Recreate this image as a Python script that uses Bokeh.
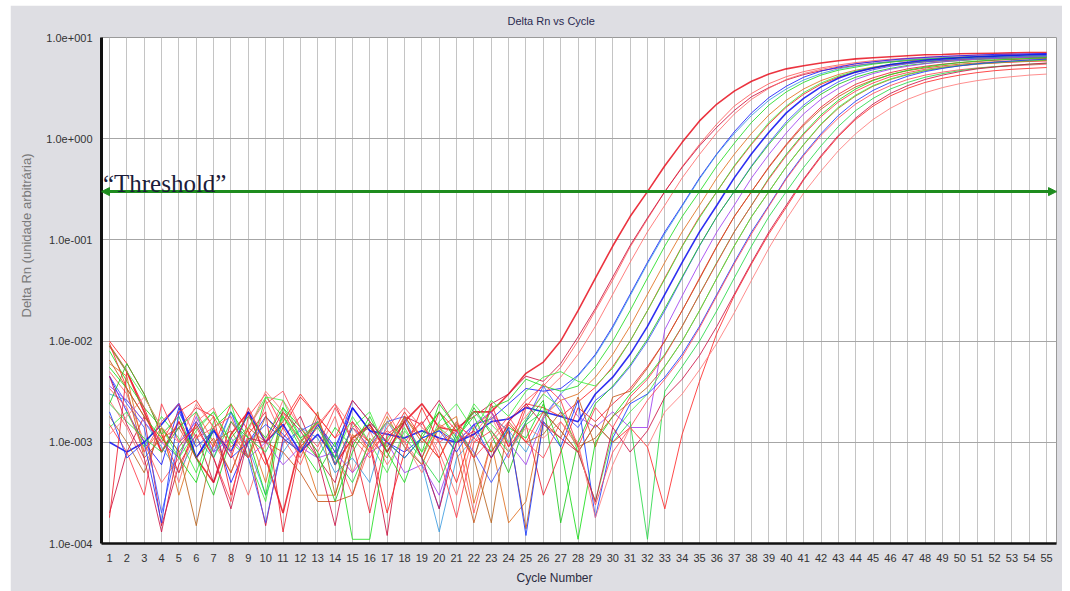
from bokeh.plotting import figure
from bokeh.models import FixedTicker, CustomJSTickFormatter, Range1d, Label, Arrow, NormalHead, Title
from bokeh.embed import file_html
from bokeh.resources import INLINE

# ---------------- data ----------------
cycles = list(range(1, 56))
x_ticks = list(range(1, 56))
y_ticks = [1e-4, 1e-3, 1e-2, 1e-1, 1e0, 1e1]
y_tick_labels = ["1.0e-004", "1.0e-003", "1.0e-002", "1.0e-001", "1.0e+000", "1.0e+001"]
threshold_value = 0.3

title_text = "Delta Rn vs Cycle"
x_label_text = "Cycle Number"
y_label_text = "Delta Rn (unidade arbitrária)"
threshold_text = "\u201cThreshold\u201d"

s01 = [9.0e-3, 5.0e-3, 2.0e-3, 8.0e-4, 1.6e-3, 7.0e-4, 4.0e-4, 1.2e-3, 2.0e-3, 7.0e-4, 2.0e-4, 1.0e-3, 1.6e-3, 6.0e-4, 1.1e-3, 1.5e-3, 8.0e-4, 1.6e-3, 2.4e-3, 1.4e-3, 1.3e-3, 2.0e-3, 2.0e-3,
       3.0e-3, 4.8e-3, 6.2e-3, 1.0e-2, 2.0e-2, 4.2e-2, 8.7e-2, 0.17, 0.30, 0.54, 0.92, 1.5, 2.2, 2.95, 3.7, 4.35, 4.9, 5.25, 5.6, 5.9, 6.15, 6.3, 6.45, 6.6, 6.75, 6.8, 6.9, 6.95, 7.0, 7.05, 7.1, 7.1]
s02 = [5.0e-3, 3.0e-3, 1.0e-3, 4.0e-4, 7.0e-4, 2.0e-3, 1.0e-3, 5.0e-4, 1.4e-3, 2.6e-3, 1.1e-3, 6.0e-4, 1.6e-3, 8.0e-4, 3.0e-4, 9.0e-4, 2.0e-3, 1.0e-3, 6.0e-4, 1.5e-3, 1.2e-3, 2.0e-4, 1.0e-3, 1.6e-3,
       2.6e-3, 3.6e-3, 5.5e-3, 1.0e-2, 2.0e-2, 4.0e-2, 8.5e-2, 0.16, 0.30, 0.53, 0.88, 1.4, 2.1, 2.8, 3.5, 4.1, 4.6, 5.0, 5.35, 5.65, 5.9, 6.1, 6.25, 6.4, 6.5, 6.6, 6.7, 6.75, 6.8, 6.85, 6.9]
s03 = [2.0e-4, 8.0e-4, 1.8e-3, 1.5e-4, 6.0e-4, 1.2e-3, 4.0e-4, 1.6e-3, 9.0e-4, 1.5e-4, 1.1e-3, 1.8e-3, 7.0e-4, 4.0e-4, 1.6e-3, 1.0e-3, 1.2e-4, 1.8e-3, 1.5e-3, 2.6e-3, 1.4e-3, 1.8e-3, 2.4e-3, 3.0e-3,
       4.5e-3, 4.0e-3, 6.0e-3, 1.1e-2, 2.1e-2, 4.3e-2, 8.8e-2, 0.165, 0.30, 0.52, 0.85, 1.3, 1.9, 2.6, 3.2, 3.8, 4.3, 4.7, 5.0, 5.3, 5.55, 5.75, 5.9, 6.05, 6.15, 6.25, 6.3, 6.35, 6.4, 6.45, 6.5]
s04 = [2.6e-3, 1.4e-3, 6.0e-4, 1.2e-3, 4.0e-4, 1.6e-3, 2.2e-3, 8.0e-4, 3.0e-4, 1.0e-3, 2.6e-3, 1.4e-3, 8.0e-4, 1.8e-3, 5.0e-4, 1.3e-3, 6.0e-4, 1.1e-3, 1.6e-3, 8.0e-4, 3.0e-4, 1.2e-3, 2.0e-3, 1.2e-3, 1.8e-3,
       3.0e-3, 4.4e-3, 7.4e-3, 1.4e-2, 2.9e-2, 6.0e-2, 0.12, 0.22, 0.41, 0.70, 1.15, 1.75, 2.45, 3.15, 3.85, 4.4, 4.85, 5.2, 5.5, 5.75, 5.95, 6.1, 6.25, 6.35, 6.45, 6.55, 6.6, 6.65, 6.7, 6.75]
s05 = [4.5e-3, 2.0e-3, 1.0e-3, 6.0e-4, 2.2e-3, 7.0e-4, 1.4e-3, 4.0e-4, 1.0e-3, 1.8e-3, 1.2e-3, 8.0e-4, 1.5e-3, 9.0e-4, 2.2e-3, 1.3e-3, 1.0e-3, 8.0e-4, 1.1e-3, 1.3e-3, 1.0e-3, 1.5e-3, 1.7e-3, 2.4e-3, 3.4e-3, 3.2e-3,
       3.4e-3, 4.6e-3, 7.4e-3, 1.4e-2, 2.9e-2, 6.0e-2, 0.12, 0.22, 0.41, 0.71, 1.17, 1.8, 2.55, 3.3, 4.05, 4.65, 5.1, 5.5, 5.75, 6.0, 6.2, 6.35, 6.5, 6.6, 6.7, 6.8, 6.85, 6.9, 6.95]
s06 = [3.0e-3, 2.6e-3, 1.6e-3, 9.0e-4, 5.0e-4, 1.1e-3, 7.0e-4, 2.0e-3, 9.0e-4, 3.0e-4, 8.0e-4, 1.4e-3, 1.1e-3, 5.0e-4, 7.0e-4, 4.0e-4, 1.6e-3, 9.0e-4, 6.0e-4, 1.3e-4, 7.0e-4, 1.1e-3, 1.8e-3, 1.3e-3, 8.0e-4, 1.8e-3,
       3.0e-3, 4.5e-3, 7.2e-3, 1.35e-2, 2.8e-2, 5.8e-2, 0.115, 0.215, 0.40, 0.70, 1.12, 1.7, 2.4, 3.1, 3.8, 4.4, 4.9, 5.25, 5.55, 5.8, 6.0, 6.15, 6.3, 6.4, 6.5, 6.6, 6.65, 6.7, 6.75]
s07 = [8.0e-3, 4.0e-3, 2.2e-3, 1.4e-3, 8.0e-4, 1.4e-3, 2.0e-3, 1.0e-3, 7.0e-4, 2.8e-3, 1.8e-3, 9.0e-4, 5.0e-4, 1.0e-3, 1.1e-4, 1.1e-4, 1.1e-3, 1.6e-3, 8.0e-4, 2.4e-3, 1.4e-3, 7.0e-4, 2.2e-3, 2.6e-3, 4.2e-3, 3.6e-3,
       3.2e-3, 3.6e-3, 5.6e-3, 1.0e-2, 2.0e-2, 4.2e-2, 8.7e-2, 0.17, 0.30, 0.54, 0.90, 1.45, 2.15, 2.9, 3.6, 4.25, 4.75, 5.1, 5.45, 5.7, 5.95, 6.1, 6.25, 6.35, 6.45, 6.5, 6.55, 6.6, 6.6]
s08 = [6.0e-3, 4.5e-3, 8.0e-4, 1.4e-3, 3.0e-4, 1.1e-3, 1.8e-3, 9.0e-4, 1.3e-3, 4.0e-4, 2.0e-3, 1.0e-3, 3.0e-4, 3.0e-4, 1.2e-3, 8.0e-4, 1.8e-3, 9.0e-4, 6.0e-4, 1.4e-3, 1.8e-3, 2.5e-4, 1.0e-3, 1.6e-4, 2.6e-4, 1.8e-3, 2.6e-3,
       3.0e-3, 4.4e-3, 7.4e-3, 1.4e-2, 2.9e-2, 6.0e-2, 0.12, 0.22, 0.41, 0.70, 1.13, 1.72, 2.4, 3.1, 3.75, 4.3, 4.75, 5.1, 5.4, 5.6, 5.8, 5.95, 6.05, 6.15, 6.25, 6.3, 6.35, 6.4]
s09 = [1.0e-2, 6.0e-3, 3.0e-3, 1.2e-3, 5.0e-4, 1.6e-3, 9.0e-4, 2.4e-3, 1.3e-3, 6.0e-4, 1.4e-3, 2.8e-3, 1.8e-3, 6.0e-4, 1.4e-3, 1.0e-3, 2.0e-4, 8.0e-4, 2.2e-3, 1.0e-3, 4.0e-4, 1.4e-3, 2.0e-3, 9.0e-4, 2.4e-3, 2.2e-3, 1.8e-3,
       2.5e-3, 3.5e-3, 5.6e-3, 1.0e-2, 2.0e-2, 4.2e-2, 8.7e-2, 0.17, 0.30, 0.53, 0.88, 1.4, 2.05, 2.75, 3.45, 4.05, 4.55, 4.95, 5.3, 5.55, 5.75, 5.9, 6.05, 6.15, 6.2, 6.3, 6.35, 6.4]
s10 = [1.4e-3, 2.0e-3, 9.0e-4, 1.8e-3, 1.1e-3, 5.0e-4, 1.6e-3, 2.4e-3, 7.0e-4, 2.6e-4, 1.8e-3, 1.0e-3, 1.6e-3, 6.0e-4, 1.4e-3, 2.0e-3, 8.0e-4, 1.4e-3, 7.0e-4, 1.6e-3, 2.4e-3, 1.3e-3, 2.6e-3, 1.8e-3, 3.2e-3, 4.4e-3, 5.0e-3,
       4.0e-3, 3.6e-3, 5.4e-3, 1.0e-2, 2.0e-2, 4.1e-2, 8.6e-2, 0.165, 0.30, 0.54, 0.90, 1.45, 2.1, 2.85, 3.55, 4.15, 4.65, 5.05, 5.4, 5.65, 5.85, 6.0, 6.15, 6.25, 6.3, 6.4, 6.45, 6.5]
s11 = [1.0e-3, 8.0e-4, 1.0e-3, 1.5e-3, 2.4e-3, 7.0e-4, 1.3e-3, 8.0e-4, 2.0e-3, 1.0e-3, 1.5e-3, 8.0e-4, 1.2e-3, 7.0e-4, 2.2e-3, 1.3e-3, 1.2e-3, 1.1e-3, 1.3e-3, 1.1e-3, 1.0e-3, 1.2e-3, 1.6e-3, 1.7e-3, 2.2e-3, 2.0e-3, 1.8e-3, 1.6e-3,
       3.0e-3, 4.4e-3, 7.4e-3, 1.4e-2, 2.9e-2, 6.0e-2, 0.12, 0.22, 0.41, 0.71, 1.16, 1.8, 2.5, 3.25, 3.95, 4.55, 5.0, 5.4, 5.7, 5.95, 6.15, 6.3, 6.45, 6.55, 6.65, 6.75, 6.8]
s12 = [4.5e-3, 2.4e-3, 1.4e-3, 2.0e-4, 1.0e-3, 1.6e-3, 8.0e-4, 2.0e-3, 7.0e-4, 1.6e-4, 1.0e-3, 1.3e-3, 1.6e-3, 6.0e-4, 1.4e-3, 9.0e-4, 1.6e-3, 1.8e-3, 7.0e-4, 2.2e-4, 1.3e-3, 8.0e-4, 4.0e-4, 8.0e-4, 1.6e-3, 3.6e-3, 2.0e-3, 1.4e-3,
       2.6e-3, 3.5e-3, 5.6e-3, 1.0e-2, 2.0e-2, 4.2e-2, 8.7e-2, 0.17, 0.30, 0.54, 0.91, 1.47, 2.15, 2.9, 3.65, 4.3, 4.8, 5.2, 5.5, 5.75, 5.95, 6.1, 6.25, 6.35, 6.45, 6.55, 6.6]
s13 = [2.4e-3, 6.0e-3, 3.0e-3, 1.2e-3, 1.8e-3, 7.0e-4, 3.0e-4, 1.1e-3, 1.8e-3, 1.1e-3, 2.2e-3, 1.4e-3, 8.0e-4, 2.6e-4, 8.0e-4, 1.6e-3, 1.0e-3, 7.0e-4, 1.1e-3, 2.0e-3, 1.0e-3, 2.2e-3, 1.2e-3, 5.0e-4, 1.6e-3, 2.6e-3, 1.6e-4, 1.0e-3,
       2.4e-3, 3.6e-3, 5.8e-3, 1.05e-2, 2.1e-2, 4.3e-2, 8.8e-2, 0.17, 0.30, 0.53, 0.88, 1.4, 2.05, 2.75, 3.45, 4.05, 4.55, 4.95, 5.3, 5.55, 5.75, 5.9, 6.05, 6.15, 6.25, 6.3, 6.35]
s14 = [3.6e-3, 2.6e-3, 1.6e-3, 1.0e-3, 7.0e-4, 1.8e-3, 8.0e-4, 1.1e-3, 7.0e-4, 1.0e-3, 6.0e-4, 9.0e-4, 7.0e-4, 8.0e-4, 5.0e-4, 8.0e-4, 1.0e-3, 5.0e-4, 6.0e-4, 3.0e-4, 1.0e-3, 1.5e-3, 2.0e-3, 1.0e-3, 6.0e-4, 1.7e-3, 3.0e-3, 1.8e-3, 1.4e-3,
       2.0e-3, 1.4e-3, 1.4e-3, 1.3e-2, 2.8e-2, 5.9e-2, 0.12, 0.22, 0.41, 0.70, 1.14, 1.76, 2.45, 3.15, 3.85, 4.4, 4.85, 5.2, 5.5, 5.75, 5.95, 6.1, 6.2, 6.3, 6.4, 6.45]
s15 = [1.8e-4, 5.0e-3, 2.2e-3, 8.0e-4, 1.4e-3, 2.2e-3, 1.8e-3, 3.0e-4, 1.2e-3, 2.0e-3, 1.3e-4, 9.0e-4, 1.4e-3, 2.4e-3, 1.0e-3, 2.0e-4, 1.2e-3, 1.6e-3, 7.0e-4, 2.0e-3, 1.3e-3, 7.0e-4, 2.4e-3, 9.0e-4, 1.5e-3, 3.0e-4, 8.0e-4, 2.2e-3, 1.6e-3,
       2.4e-3, 3.4e-3, 5.6e-3, 1.0e-2, 2.0e-2, 4.2e-2, 8.7e-2, 0.17, 0.30, 0.53, 0.88, 1.4, 2.05, 2.75, 3.45, 4.0, 4.5, 4.9, 5.2, 5.45, 5.65, 5.8, 5.95, 6.05, 6.15, 6.2]
s16 = [6.5e-3, 3.4e-3, 7.0e-4, 1.1e-3, 1.4e-3, 7.0e-4, 1.1e-3, 5.0e-4, 1.4e-3, 1.0e-3, 8.0e-4, 5.0e-4, 2.6e-4, 2.6e-4, 3.0e-4, 1.1e-3, 7.0e-4, 1.8e-3, 1.0e-3, 1.4e-3, 8.0e-4, 1.6e-4, 7.0e-4, 1.3e-3, 1.4e-4, 1.6e-3, 1.1e-3, 2.8e-3, 9.0e-4,
       2.8e-3, 3.2e-3, 5.4e-3, 1.0e-2, 2.0e-2, 4.1e-2, 8.6e-2, 0.17, 0.30, 0.52, 0.86, 1.35, 1.95, 2.6, 3.25, 3.8, 4.3, 4.7, 5.0, 5.25, 5.45, 5.6, 5.75, 5.85, 5.95, 6.0]
s17 = [5.5e-3, 3.4e-3, 1.8e-3, 1.1e-3, 7.0e-4, 4.0e-4, 1.4e-3, 2.0e-3, 1.1e-3, 3.0e-4, 2.2e-3, 1.1e-3, 7.0e-4, 1.4e-3, 9.0e-4, 1.8e-3, 8.0e-4, 4.0e-4, 1.2e-3, 2.0e-3, 1.1e-3, 1.8e-3, 8.0e-4, 1.4e-3, 1.1e-3, 2.4e-3, 9.0e-4, 1.1e-4, 1.0e-3, 1.8e-3,
       3.0e-3, 4.4e-3, 7.4e-3, 1.4e-2, 2.9e-2, 6.0e-2, 0.12, 0.22, 0.41, 0.70, 1.13, 1.72, 2.4, 3.1, 3.75, 4.3, 4.75, 5.1, 5.4, 5.65, 5.85, 6.0, 6.1, 6.2, 6.3]
s18 = [1.5e-3, 8.0e-4, 3.0e-4, 2.4e-3, 1.0e-3, 1.4e-3, 7.0e-4, 2.6e-4, 1.8e-3, 3.0e-3, 1.4e-3, 7.0e-4, 1.8e-3, 1.1e-3, 1.6e-3, 8.0e-4, 1.3e-3, 1.0e-3, 1.6e-3, 7.0e-4, 1.8e-4, 1.0e-3, 1.3e-3, 7.0e-4, 2.2e-3, 3.8e-3, 2.6e-3, 9.0e-4, 2.2e-3, 1.4e-3,
       2.8e-3, 4.2e-3, 7.2e-3, 1.4e-2, 2.9e-2, 5.9e-2, 0.12, 0.22, 0.40, 0.68, 1.1, 1.65, 2.3, 2.95, 3.55, 4.1, 4.5, 4.85, 5.1, 5.3, 5.5, 5.6, 5.7, 5.8, 5.85]
s19 = [1.8e-3, 1.0e-3, 5.0e-4, 1.4e-3, 8.0e-4, 1.5e-4, 1.0e-3, 1.3e-3, 7.0e-4, 1.8e-3, 1.1e-3, 8.0e-4, 2.0e-3, 3.0e-4, 1.1e-3, 1.4e-3, 9.0e-4, 1.8e-3, 1.1e-3, 7.0e-4, 1.6e-3, 7.0e-4, 1.6e-4, 1.6e-3, 1.0e-3, 1.2e-3, 2.0e-3, 9.0e-4, 1.1e-3, 1.8e-3,
       2.5e-3, 3.5e-3, 5.6e-3, 1.0e-2, 2.0e-2, 4.2e-2, 8.7e-2, 0.17, 0.30, 0.53, 0.87, 1.38, 2.0, 2.65, 3.3, 3.85, 4.3, 4.7, 5.0, 5.25, 5.45, 5.6, 5.75, 5.85, 5.95]
s20 = [9.0e-3, 5.0e-3, 2.8e-3, 1.4e-3, 7.0e-4, 1.3e-3, 2.0e-3, 1.0e-3, 1.4e-3, 2.8e-3, 2.6e-3, 1.1e-3, 1.6e-3, 7.0e-4, 1.8e-3, 1.0e-3, 5.0e-4, 1.3e-3, 8.0e-4, 1.4e-3, 1.0e-3, 2.4e-3, 1.5e-3, 1.0e-3, 1.7e-3, 3.0e-3, 2.2e-3, 8.0e-4, 2.6e-4, 1.2e-3,
       2.0e-3, 3.0e-3, 5.6e-3, 1.0e-2, 2.0e-2, 4.2e-2, 8.7e-2, 0.17, 0.30, 0.53, 0.88, 1.4, 2.05, 2.7, 3.35, 3.9, 4.35, 4.75, 5.05, 5.3, 5.5, 5.65, 5.8, 5.9, 6.0]
s21 = [2.0e-3, 7.0e-4, 1.0e-3, 1.6e-4, 2.0e-3, 9.0e-4, 1.3e-3, 7.0e-4, 1.0e-3, 1.5e-3, 1.1e-3, 8.0e-4, 1.5e-3, 8.0e-4, 2.6e-3, 1.6e-3, 1.0e-3, 7.0e-4, 1.1e-3, 1.3e-3, 8.0e-4, 1.5e-3, 7.0e-4, 1.4e-3, 1.2e-4, 1.6e-3, 9.0e-4, 2.6e-3, 1.8e-4, 1.1e-3, 2.4e-3,
       3.0e-3, 4.4e-3, 7.4e-3, 1.4e-2, 2.9e-2, 6.0e-2, 0.12, 0.22, 0.41, 0.70, 1.12, 1.7, 2.35, 3.0, 3.6, 4.15, 4.6, 4.95, 5.25, 5.5, 5.7, 5.85, 6.0, 6.1]
s22 = [3.4e-3, 2.2e-3, 8.0e-4, 1.6e-3, 2.4e-3, 1.1e-3, 1.4e-3, 1.8e-3, 7.0e-4, 2.4e-3, 3.2e-3, 1.4e-3, 9.0e-4, 2.2e-3, 1.1e-3, 7.0e-4, 1.4e-3, 2.2e-3, 1.4e-3, 1.0e-3, 1.3e-3, 7.0e-4, 1.1e-3, 1.8e-3, 1.0e-3, 7.0e-4, 1.6e-3, 9.0e-4, 2.4e-4, 8.0e-4, 1.4e-3,
       2.6e-3, 4.2e-3, 7.0e-3, 1.35e-2, 2.8e-2, 5.8e-2, 0.115, 0.215, 0.40, 0.68, 1.08, 1.6, 2.2, 2.8, 3.35, 3.85, 4.25, 4.55, 4.8, 5.0, 5.15, 5.25, 5.35, 5.45]
s23 = [2.4e-3, 1.6e-3, 1.1e-3, 8.0e-4, 1.4e-3, 2.0e-3, 7.0e-4, 1.6e-3, 1.1e-3, 8.0e-4, 1.8e-3, 1.1e-3, 1.4e-3, 7.0e-4, 4.0e-4, 1.0e-3, 1.6e-3, 1.1e-3, 7.0e-4, 4.0e-4, 1.1e-3, 2.0e-3, 1.3e-3, 8.0e-4, 1.5e-3, 2.0e-3, 1.3e-3, 8.0e-4, 1.5e-3, 1.0e-3, 1.6e-3,
       1.1e-4, 3.2e-3, 5.6e-3, 1.0e-2, 2.0e-2, 4.2e-2, 8.7e-2, 0.17, 0.30, 0.52, 0.85, 1.32, 1.9, 2.5, 3.1, 3.6, 4.05, 4.4, 4.7, 4.95, 5.15, 5.3, 5.45, 5.55]
s24 = [9.5e-3, 3.4e-3, 1.8e-3, 1.0e-3, 2.0e-3, 2.6e-3, 1.4e-3, 7.0e-4, 2.2e-3, 1.0e-3, 1.6e-3, 3.0e-3, 1.8e-3, 1.1e-3, 2.6e-3, 1.6e-3, 1.0e-3, 2.0e-3, 1.1e-3, 7.0e-4, 1.5e-3, 1.1e-3, 8.0e-4, 1.5e-3, 1.0e-3, 2.0e-3, 1.3e-3, 8.0e-4, 1.5e-3, 1.0e-3, 1.4e-3, 9.0e-4,
       2.2e-4, 1.2e-3, 4.0e-3, 1.2e-2, 2.8e-2, 5.8e-2, 0.115, 0.21, 0.39, 0.66, 1.05, 1.55, 2.1, 2.65, 3.15, 3.6, 3.95, 4.25, 4.5, 4.7, 4.85, 4.95, 5.05]
s25 = [4.5e-3, 1.5e-3, 7.0e-4, 1.3e-4, 9.0e-4, 1.5e-3, 7.0e-4, 2.2e-4, 1.1e-3, 1.0e-3, 2.0e-3, 1.3e-3, 7.0e-4, 1.5e-4, 1.0e-3, 1.5e-3, 8.0e-4, 1.6e-3, 7.0e-4, 2.2e-4, 1.0e-3, 1.3e-3, 7.0e-4, 1.6e-3, 2.4e-3, 1.5e-3, 1.1e-3, 8.0e-4, 2.6e-4, 1.4e-3, 8.0e-4, 1.3e-3,
       2.8e-3, 4.2e-3, 7.2e-3, 1.4e-2, 2.9e-2, 6.0e-2, 0.12, 0.22, 0.40, 0.68, 1.08, 1.6, 2.2, 2.8, 3.35, 3.85, 4.25, 4.6, 4.9, 5.1, 5.3, 5.45, 5.6]
s26 = [1.2e-3, 1.8e-3, 2.8e-3, 1.4e-3, 1.0e-3, 2.4e-3, 1.4e-3, 8.0e-4, 1.3e-3, 3.2e-3, 2.0e-3, 1.0e-3, 1.5e-3, 2.4e-3, 1.4e-3, 8.0e-4, 1.6e-3, 1.0e-3, 5.0e-4, 1.1e-3, 1.6e-3, 1.0e-3, 1.8e-3, 8.0e-4, 1.4e-3, 1.1e-3, 1.6e-3, 1.0e-3, 1.8e-4, 6.0e-4, 1.4e-3, 9.0e-4,
       2.0e-3, 3.0e-3, 5.2e-3, 9.5e-3, 1.9e-2, 4.0e-2, 8.3e-2, 0.16, 0.29, 0.48, 0.76, 1.12, 1.55, 2.0, 2.45, 2.85, 3.2, 3.5, 3.75, 3.95, 4.1, 4.25, 4.35]

series = [s01, s02, s03, s04, s05, s06, s07, s08, s09, s10, s11, s12, s13,
          s14, s15, s16, s17, s18, s19, s20, s21, s22, s23, s24, s25, s26]

# ---------------- styles ----------------
series_colors = ["#e8101e", "#ff5a5a", "#cc1040", "#ff6b6b", "#1a1aff", "#3b9be0", "#22dd22",
                 "#e0701e", "#ff2020", "#3cee3c", "#0a0aee", "#4050ff", "#20c820", "#a040f0",
                 "#ee2030", "#c8581a", "#18dd18", "#ff3a48", "#b8641e", "#48ee48", "#1838ff",
                 "#ff4a5a", "#28d848", "#ff2a2a", "#cc1448", "#ff7a7a"]
series_widths = [1.6, 1, 1, 1, 1, 1, 1, 1, 1, 1, 1.6, 1, 1, 1, 1, 1, 1, 1, 1, 1, 1, 1, 1, 1, 1, 1]

for i, s in enumerate(series):
    if len(s) != len(cycles):
        raise ValueError("series %d has %d values" % (i + 1, len(s)))

GREEN = "#1e8c1e"
SANS = "Liberation Sans"
X0, X1 = 0.54, 55.57

p = figure(width=1052, height=586, margin=(5, 0, 0, 10), y_axis_type="log",
           x_range=Range1d(X0, X1), y_range=Range1d(1e-4, 10),
           output_backend="svg", toolbar_location=None,
           min_border_left=89, min_border_right=6, min_border_top=32, min_border_bottom=48,
           background_fill_color="white", border_fill_color="#dedee3")
p.outline_line_color = "#9a9a9a"
p.outline_line_width = 1

# title (above)
p.title.text = title_text
p.title.align = "left"
p.title.offset = 406
p.title.vertical_align = "top"
p.title.standoff = 17
p.title.text_font = SANS
p.title.text_font_size = "11px"
p.title.text_font_style = "normal"
p.title.text_color = "#2a2a50"

# axes
p.xaxis.ticker = FixedTicker(ticks=x_ticks, minor_ticks=[])
p.yaxis.ticker = FixedTicker(ticks=y_ticks, minor_ticks=[])
p.yaxis.formatter = CustomJSTickFormatter(args=dict(yt=y_ticks, yl=y_tick_labels), code="""
let best = 0, dist = 1e9;
for (let i = 0; i < yt.length; i++) {
  const d = Math.abs(Math.log10(tick) - Math.log10(yt[i]));
  if (d < dist) { dist = d; best = i; }
}
return yl[best];
""")
for ax in (p.xaxis[0], p.yaxis[0]):
    ax.major_tick_line_color = None
    ax.minor_tick_line_color = None
    ax.major_tick_out = 0
    ax.major_tick_in = 0
    ax.axis_line_color = "#111111"
    ax.major_label_text_font = SANS
    ax.major_label_text_font_size = "11px"
    ax.major_label_text_color = "#333333"
p.xaxis.axis_line_width = 2.5
p.yaxis.axis_line_width = 3
p.xaxis.major_label_standoff = 10
p.yaxis.major_label_standoff = 9

# axis titles as side titles
p.add_layout(Title(text=x_label_text, align="left", offset=415, vertical_align="bottom", standoff=9,
                   text_font=SANS, text_font_size="12px", text_font_style="normal",
                   text_color="#2a2a40"), "below")
p.add_layout(Title(text=y_label_text, align="left", offset=226, vertical_align="top", standoff=16,
                   text_font=SANS, text_font_size="13px", text_font_style="normal",
                   text_color="#7a7a7a"), "left")

# grid
p.xgrid.ticker = FixedTicker(ticks=x_ticks, minor_ticks=[])
p.ygrid.ticker = FixedTicker(ticks=y_ticks, minor_ticks=[])
p.xgrid.grid_line_color = "#c4c4c4"
p.ygrid.grid_line_color = "#a6a6a6"

# curves
for ys, c, w in zip(series, series_colors, series_widths):
    p.line(cycles, ys, line_color=c, line_width=w, line_alpha=0.85)

# threshold
p.add_layout(Arrow(x_start=X0, y_start=threshold_value, x_end=X1, y_end=threshold_value,
                   line_color=GREEN, line_width=3,
                   start=NormalHead(size=8, fill_color=GREEN, line_color=GREEN),
                   end=NormalHead(size=8, fill_color=GREEN, line_color=GREEN)))
p.add_layout(Label(x=0.62, y=0.36, text=threshold_text, text_font="Liberation Serif",
                   text_font_size="25px", text_color="#1c1c3a", text_align="left",
                   text_baseline="alphabetic"))

open("out.html", "w").write(file_html(p, INLINE))
